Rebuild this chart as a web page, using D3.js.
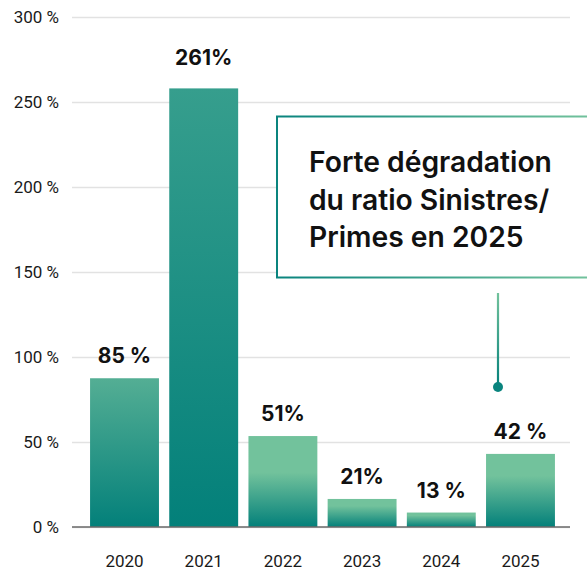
<!DOCTYPE html>
<html>
<head>
<meta charset="utf-8">
<script src="https://cdn.jsdelivr.net/npm/d3@7"></script>
<style>
  html, body { margin: 0; padding: 0; background: #fff; }
  svg { display: block; }
  text { font-family: Roboto, "Noto Sans", sans-serif; }
</style>
</head>
<body>
<div id="chart"></div>
<script>
// données (ratio Sinistres / Primes)
var years = ["2020", "2021", "2022", "2023", "2024", "2025"];
var ratios = [87.5, 258, 53.5, 16.5, 8.5, 43];
var ratioLabels = ["85 %", "261%", "51%", "21%", "13 %", "42 %"];
var yTicks = [0, 50, 100, 150, 200, 250, 300];
var noteLines = ["Forte dégradation", "du ratio Sinistres/", "Primes en 2025"];

var width = 587;
var height = 574;
var light = "#72c29c";
var dark = "#03807a";

var svg = d3.select("#chart").append("svg")
    .attr("width", width)
    .attr("height", height);

var x = d3.scaleBand()
    .domain(years)
    .range([80, 565])
    .paddingInner(0.13)
    .paddingOuter(0.127);

var y = d3.scaleLinear()
    .domain([0, 300])
    .range([527, 17]);

var defs = svg.append("defs");

// dégradés des barres : couleur du haut selon la barre
var topColors = ["#54ae94", "#369e8d", light, light, light, light];
var lightStop = [0, 0, 0.4, 0.25, 0.2, 0.3];
years.forEach(function (yr, i) {
    var g = defs.append("linearGradient")
        .attr("id", "bar" + i)
        .attr("x1", 0).attr("y1", 0).attr("x2", 0).attr("y2", 1);
    g.append("stop").attr("offset", 0).attr("stop-color", topColors[i]);
    g.append("stop").attr("offset", lightStop[i]).attr("stop-color", topColors[i]);
    g.append("stop").attr("offset", 1).attr("stop-color", dark);
});

var borderGrad = defs.append("linearGradient")
    .attr("id", "border")
    .attr("gradientUnits", "userSpaceOnUse")
    .attr("x1", 277).attr("y1", 0).attr("x2", 590).attr("y2", 0);
borderGrad.append("stop").attr("offset", 0).attr("stop-color", "#0a847e");
borderGrad.append("stop").attr("offset", 1).attr("stop-color", light);

var stemGrad = defs.append("linearGradient")
    .attr("id", "stem")
    .attr("gradientUnits", "userSpaceOnUse")
    .attr("x1", 0).attr("y1", 293).attr("x2", 0).attr("y2", 387);
stemGrad.append("stop").attr("offset", 0).attr("stop-color", light);
stemGrad.append("stop").attr("offset", 1).attr("stop-color", dark);

// grille + axe y
var yAxis = svg.append("g")
    .attr("transform", "translate(72,0)")
    .call(d3.axisLeft(y).tickValues(yTicks).tickSize(-498).tickPadding(13)
        .tickFormat(function (d) { return d + " %"; }));
yAxis.select(".domain").remove();
yAxis.selectAll(".tick line")
    .attr("stroke", "#e2e2e2")
    .attr("stroke-width", 1.5);
yAxis.selectAll(".tick text")
    .attr("fill", "#1a1a1a")
    .style("font-size", "17px");

// barres
svg.append("g").selectAll("rect")
    .data(ratios)
    .join("rect")
    .attr("x", function (d, i) { return x(years[i]); })
    .attr("y", function (d) { return y(d); })
    .attr("width", x.bandwidth())
    .attr("height", function (d) { return y(0) - y(d); })
    .attr("fill", function (d, i) { return "url(#bar" + i + ")"; });

// ligne de base
svg.append("line")
    .attr("x1", 72).attr("x2", 570)
    .attr("y1", y(0)).attr("y2", y(0))
    .attr("stroke", "#6a6a6a")
    .attr("stroke-width", 1.5);

// étiquettes des valeurs
svg.append("g").selectAll("text")
    .data(ratioLabels)
    .join("text")
    .attr("x", function (d, i) { return x(years[i]) + x.bandwidth() / 2; })
    .attr("y", function (d, i) { return y(ratios[i]) - (i == 1 ? 23 : 15); })
    .attr("text-anchor", "middle")
    .attr("fill", "#111")
    .style("font-family", "Inter, Roboto, sans-serif")
    .style("font-size", "21px")
    .style("font-weight", "700")
    .text(function (d) { return d; });

// axe x
var xAxis = svg.append("g")
    .attr("transform", "translate(0," + y(0) + ")")
    .call(d3.axisBottom(x).tickSize(0).tickPadding(28));
xAxis.select(".domain").remove();
xAxis.selectAll(".tick text")
    .attr("fill", "#1a1a1a")
    .style("font-size", "17px");

// encadré d'annotation
svg.append("rect")
    .attr("x", 277).attr("y", 116.5)
    .attr("width", 330).attr("height", 161)
    .attr("fill", "#fff")
    .attr("stroke", "url(#border)")
    .attr("stroke-width", 2);

var note = svg.append("g").selectAll("text")
    .data(noteLines)
    .join("text")
    .attr("x", 309)
    .attr("y", function (d, i) { return 172 + i * 37.5; })
    .attr("fill", "#111")
    .style("font-family", "Inter, Roboto, sans-serif")
    .style("font-size", "28px")
    .style("font-weight", "600")
    .text(function (d) { return d; });

// ajuster la taille pour que la 1re ligne fasse ~243px
var w0 = note.nodes()[0].getComputedTextLength();
if (w0 > 0) note.style("font-size", (28 * 243 / w0) + "px");

svg.append("line")
    .attr("x1", 498).attr("x2", 498)
    .attr("y1", 293).attr("y2", 386)
    .attr("stroke", "url(#stem)")
    .attr("stroke-width", 2.2);
svg.append("circle")
    .attr("cx", 498).attr("cy", 387)
    .attr("r", 5)
    .attr("fill", "#0a847e");
</script>
</body>
</html>
